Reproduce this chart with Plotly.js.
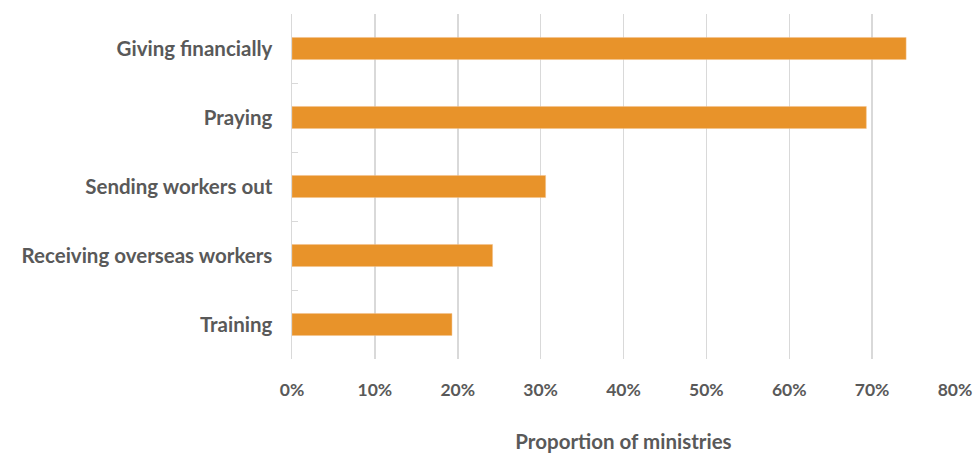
<!DOCTYPE html>
<html>
<head>
<meta charset="utf-8">
<script src="https://cdn.plot.ly/plotly-3.0.1.min.js"></script>
<style>html,body{margin:0;padding:0;background:#fff;}#chart{width:973px;height:455px;}</style>
</head>
<body>
<div id="chart"></div>
<script>
var categories = ["Giving financially", "Praying", "Sending workers out", "Receiving overseas workers", "Training"];
var values = [0.741, 0.693, 0.306, 0.242, 0.193];
var xTickVals = [0, 0.1, 0.2, 0.3, 0.4, 0.5, 0.6, 0.7, 0.8];
var xTickText = ["0%", "10%", "20%", "30%", "40%", "50%", "60%", "70%", "80%"];

var trace = {
  type: "bar",
  orientation: "h",
  x: values,
  y: categories,
  marker: {color: "#E8932A", line: {color: "#F3C08A", width: 0.5}},
  hoverinfo: "none"
};

var layout = {
  width: 973,
  height: 455,
  margin: {l: 292, r: 18, t: 14, b: 96},
  paper_bgcolor: "#ffffff",
  plot_bgcolor: "#ffffff",
  showlegend: false,
  bargap: 0.68,
  font: {family: "Lato, 'Open Sans', sans-serif", color: "#595959"},
  xaxis: {
    range: [0, 0.8],
    tickvals: xTickVals,
    ticktext: xTickText,
    showgrid: true,
    gridcolor: "#d9d9d9",
    gridwidth: 1.5,
    zeroline: false,
    showline: false,
    ticks: "",
    ticklabelstandoff: 18,
    tickfont: {size: 17.5, color: "#595959", family: "Lato, sans-serif", weight: "bold"},
    title: {text: "Proportion of ministries", standoff: 36, font: {size: 20.5, color: "#595959", family: "Lato, sans-serif", weight: "bold"}}
  },
  yaxis: {
    type: "category",
    autorange: "reversed",
    showgrid: false,
    zeroline: false,
    showline: true,
    linecolor: "#d9d9d9",
    linewidth: 1.5,
    ticks: "inside",
    tickson: "boundaries",
    ticklen: 6,
    tickcolor: "#d9d9d9",
    ticklabelstandoff: 14,
    tickfont: {size: 20.5, color: "#595959", family: "Lato, sans-serif", weight: "bold"}
  }
};

Plotly.newPlot("chart", [trace], layout, {displayModeBar: false, staticPlot: true});
</script>
</body>
</html>
